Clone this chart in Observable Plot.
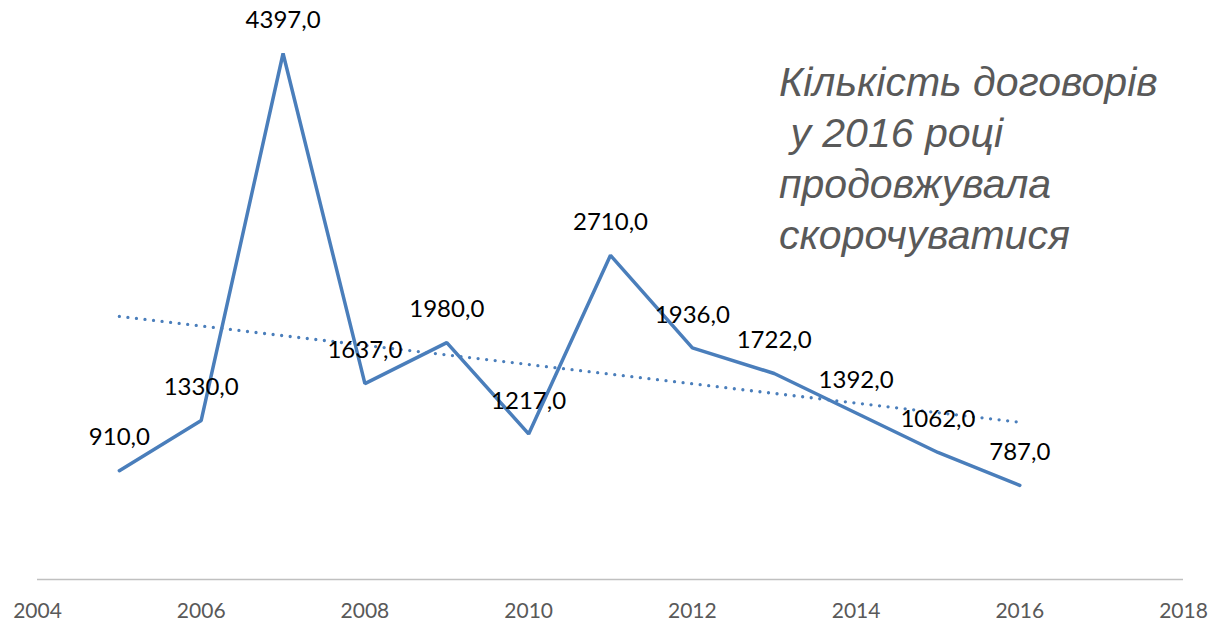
<!DOCTYPE html>
<html>
<head>
<meta charset="utf-8">
<script src="https://cdn.jsdelivr.net/npm/d3@7"></script>
<script src="https://cdn.jsdelivr.net/npm/@observablehq/plot@0.6"></script>
<style>
  html, body { margin: 0; padding: 0; background: #fff; }
  #wrap { position: relative; width: 1209px; height: 623px; overflow: hidden; }
  #title {
    position: absolute; left: 779px; top: 57px;
    font-family: "Liberation Sans", Arial, sans-serif; font-style: italic;
    font-size: 41px; line-height: 51px; color: #595959; white-space: pre;
  }
</style>
</head>
<body>
<div id="wrap"><div id="title"></div></div>
<script>
const years = [2005, 2006, 2007, 2008, 2009, 2010, 2011, 2012, 2013, 2014, 2015, 2016];
const counts = [910, 1330, 4397, 1637, 1980, 1217, 2710, 1936, 1722, 1392, 1062, 787];
const tickYears = [2004, 2006, 2008, 2010, 2012, 2014, 2016, 2018];
const titleLines = ["Кількість договорів", " у 2016 році", "продовжувала", "скорочуватися"];

const data = years.map((y, i) => ({year: y, value: counts[i]}));
const blue = "#4a7ebb";

const chart = Plot.plot({
  width: 1209,
  height: 623,
  marginLeft: 37,
  marginRight: 26,
  marginTop: 0,
  marginBottom: 44,
  style: {fontFamily: "Lato, sans-serif", background: "transparent"},
  x: {domain: [2004, 2018]},
  y: {domain: [0, 4840], axis: null},
  marks: [
    Plot.ruleY([0], {stroke: "#c0c0c0", strokeWidth: 1.5}),
    Plot.axisX({ticks: tickYears, tickFormat: d => String(d), tickSize: 0, tickPadding: 24,
      fontSize: 21, fill: "#595959", label: null}),
    Plot.linearRegressionY(data, {x: "year", y: "value", ci: 0, stroke: blue,
      strokeWidth: 3.3, strokeDasharray: "0,8.6", strokeLinecap: "round"}),
    Plot.line(data, {x: "year", y: "value", stroke: blue, strokeWidth: 3.5, strokeLinejoin: "miter"}),
    Plot.text(data, {x: "year", y: "value", text: d => d.value.toFixed(1).replace(".", ","),
      dy: -33, fontSize: 24, fill: "#000"})
  ]
});
document.getElementById("wrap").prepend(chart);
chart.style.position = "absolute";
chart.style.left = "0";
chart.style.top = "0";
document.getElementById("title").textContent = titleLines.join("\n");
</script>
</body>
</html>
